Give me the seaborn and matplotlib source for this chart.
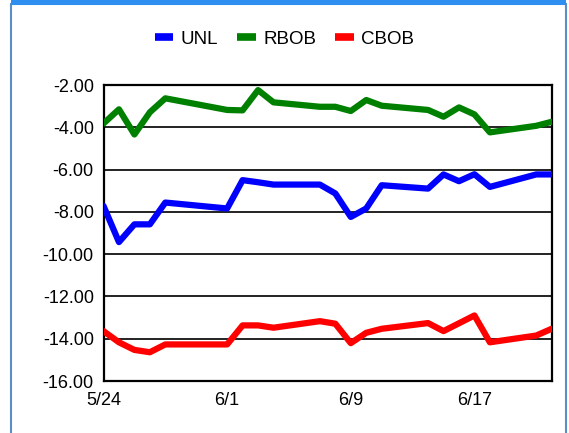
import numpy as np
import pandas as pd
import matplotlib.pyplot as plt
import matplotlib.patches as mpatches
import matplotlib.dates as mdates
from matplotlib.ticker import FuncFormatter, FormatStrFormatter
import seaborn as sns


dates = [
    '2021-05-24', '2021-05-25', '2021-05-26', '2021-05-27', '2021-05-28',
    '2021-06-01', '2021-06-02', '2021-06-03', '2021-06-04',
    '2021-06-07', '2021-06-08', '2021-06-09', '2021-06-10', '2021-06-11',
    '2021-06-14', '2021-06-15', '2021-06-16', '2021-06-17', '2021-06-18',
    '2021-06-21', '2021-06-22',
]
unl = [-7.72, -9.43, -8.59, -8.59, -7.56, -7.84, -6.50, -6.60, -6.71, -6.71, -7.13,
       -8.24, -7.84, -6.74, -6.90, -6.23, -6.55, -6.22, -6.82, -6.23, -6.23]
rbob = [-3.82, -3.15, -4.34, -3.29, -2.63, -3.18, -3.20, -2.24, -2.82, -3.03, -3.03,
        -3.23, -2.71, -2.98, -3.18, -3.50, -3.06, -3.39, -4.24, -3.93, -3.74]
cbob = [-13.64, -14.17, -14.53, -14.64, -14.27, -14.27, -13.37, -13.37, -13.48, -13.17, -13.29,
        -14.21, -13.72, -13.53, -13.26, -13.64, -13.27, -12.90, -14.17, -13.85, -13.53]

series_names = ['UNL', 'RBOB', 'CBOB']
series_colors = ['#0000FF', '#008000', '#FF0000']
tick_dates = ['2021-05-24', '2021-06-01', '2021-06-09', '2021-06-17']
y_ticks = [-16, -14, -12, -10, -8, -6, -4, -2]


df = pd.DataFrame({'date': pd.to_datetime(dates), 'UNL': unl, 'RBOB': rbob, 'CBOB': cbob})
df_long = df.melt(id_vars='date', var_name='series', value_name='value')

sns.set_style('white')
plt.rcParams['font.family'] = ['Liberation Sans', 'DejaVu Sans']
plt.rcParams['text.color'] = 'black'

fig = plt.figure(figsize=(5.69, 4.33), dpi=100)
fig.patch.set_facecolor('white')

# outer panel frame
W, H = 569, 433
fig.patches.append(mpatches.Rectangle(
    (11 / W, -0.05), (566 - 11) / W, 1.05 - 4.5 / H,
    transform=fig.transFigure, facecolor='white', edgecolor='#5b8ec6', lw=1.5, zorder=0,
))
fig.patches.append(mpatches.Rectangle(
    (11 / W, 1 - 4.5 / H), (566 - 11) / W, 4.5 / H,
    transform=fig.transFigure, facecolor='#2f8ff0', edgecolor='none', zorder=1,
))

ax = fig.add_axes([103.5 / W, 1 - 381 / H, (551.7 - 103.5) / W, (381 - 85) / H])
ax.set_zorder(5)
ax.set_facecolor('white')

sns.lineplot(
    data=df_long, x='date', y='value', hue='series',
    hue_order=series_names, palette=series_colors,
    linewidth=4.5, ax=ax, legend=False, zorder=3,
)

ax.set_xlim(pd.Timestamp(dates[0]), pd.Timestamp(dates[-1]))
ax.set_ylim(-16, -2)
ax.set_yticks(y_ticks)
ax.yaxis.set_major_formatter(FormatStrFormatter('%.2f'))
ax.set_xticks(pd.to_datetime(tick_dates))
ax.xaxis.set_major_formatter(FuncFormatter(
    lambda v, pos: f'{mdates.num2date(v).month}/{mdates.num2date(v).day}'))

ax.grid(axis='y', color='#111111', linewidth=1.3, zorder=1)
ax.set_axisbelow(True)
for s in ax.spines.values():
    s.set_visible(True)
    s.set_color('black')
    s.set_linewidth(1.6)
ax.tick_params(axis='both', which='major', direction='out', length=5, width=1.3,
               color='black', labelsize=13, labelcolor='black', pad=3)
ax.tick_params(axis='y', pad=2)
ax.set_xlabel('')
ax.set_ylabel('')

handles = [plt.Line2D([], [], color=c, lw=5.5, solid_capstyle='butt') for c in series_colors]
leg = fig.legend(
    handles, series_names, loc='center', bbox_to_anchor=(0.5, 1 - 39 / H), ncol=3,
    frameon=False, fontsize=13.5, handlelength=1.0, handletextpad=0.4, columnspacing=1.0,
)
leg.set_zorder(6)
for t in leg.get_texts():
    t.set_color('black')

fig.savefig('out.png', dpi=100)
